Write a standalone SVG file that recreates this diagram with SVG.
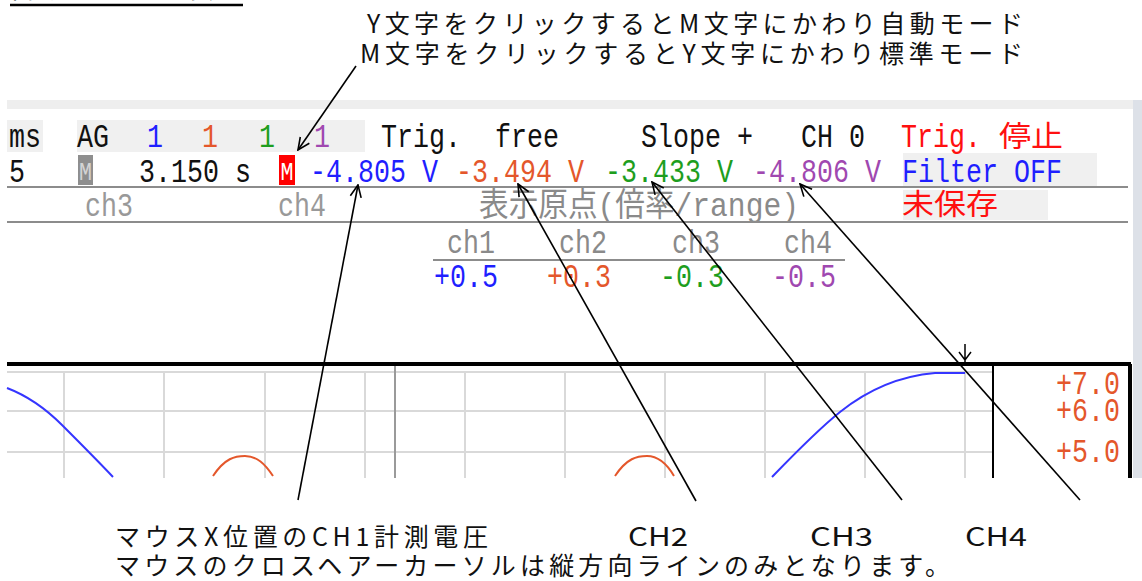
<svg xmlns="http://www.w3.org/2000/svg" width="1142" height="581" viewBox="0 0 1142 581">
<style>
.ann{font-family:"Noto Sans CJK JP","Noto Sans",sans-serif;font-size:25px;fill:#111}
.mono{font-family:"Liberation Mono","Noto Sans CJK JP",monospace;font-size:33px}
.cjk{font-family:"Noto Sans CJK JP",sans-serif;font-size:29px}
.blk{fill:#111}.blu{fill:#1f1fff}.org{fill:#e4572b}.grn{fill:#1e9e1e}.pur{fill:#a048b0}.gry{fill:#8a8a8a}.lgry{fill:#999}.red{fill:#ff1010}
.bg{fill:#f0f0f0}
.sep{stroke:#8c8c8c;stroke-width:2}
.grid{stroke:#d9d9d9;stroke-width:2}
.conn{stroke:#000;stroke-width:1.6;fill:none;marker-end:url(#ah)}
</style>
<defs>
<marker id="ah" viewBox="0 0 14 14" refX="13" refY="7" markerWidth="14" markerHeight="14" markerUnits="userSpaceOnUse" orient="auto"><path d="M1,1.5 L13,7 L1,12.5" fill="none" stroke="#000" stroke-width="1.6"/></marker>
</defs>
<rect width="1142" height="581" fill="#fff"/>

<g id="title">
<text class="ann" x="10" y="-2" font-size="28" textLength="233" lengthAdjust="spacing">自動モードの表示</text>
<line x1="10" y1="5" x2="243" y2="5" stroke="#000" stroke-width="2.5"/>
</g>

<g id="note-top">
<text class="ann" x="367" y="33" textLength="656" lengthAdjust="spacing">Y文字をクリックするとM文字にかわり自動モード</text>
<text class="ann" x="360" y="63" textLength="663" lengthAdjust="spacing">M文字をクリックするとY文字にかわり標準モード</text>
</g>

<g id="screen">
<rect x="7" y="100" width="1126" height="9" fill="#eeeeee"/>
<rect x="1133" y="100" width="9" height="378" fill="#dde1e8"/>
<rect class="bg" x="7" y="120" width="36" height="32"/>
<rect class="bg" x="77" y="120" width="288" height="32"/>
<rect class="bg" x="903" y="153" width="194" height="34"/>
<rect class="bg" x="903" y="190" width="145" height="30"/>

<g class="mono">
<text class="blk" x="9" y="147" textLength="32" lengthAdjust="spacingAndGlyphs">ms</text>
<text class="blk" x="77" y="147" textLength="32" lengthAdjust="spacingAndGlyphs">AG</text>
<text class="blu" x="147" y="147" textLength="16" lengthAdjust="spacingAndGlyphs">1</text>
<text class="org" x="202" y="147" textLength="16" lengthAdjust="spacingAndGlyphs">1</text>
<text class="grn" x="259" y="147" textLength="16" lengthAdjust="spacingAndGlyphs">1</text>
<text class="pur" x="314" y="147" textLength="16" lengthAdjust="spacingAndGlyphs">1</text>
<text class="blk" x="381" y="147" textLength="80" lengthAdjust="spacingAndGlyphs">Trig.</text>
<text class="blk" x="495" y="147" textLength="64" lengthAdjust="spacingAndGlyphs">free</text>
<text class="blk" x="641" y="147" textLength="112" lengthAdjust="spacingAndGlyphs">Slope +</text>
<text class="blk" x="801" y="147" textLength="64" lengthAdjust="spacingAndGlyphs">CH 0</text>
<text class="red" x="901" y="147" textLength="80" lengthAdjust="spacingAndGlyphs">Trig.</text>

<text class="blk" x="9" y="182" textLength="16" lengthAdjust="spacingAndGlyphs">5</text>
<text class="blk" x="139" y="182" textLength="112" lengthAdjust="spacingAndGlyphs">3.150 s</text>
<text class="blu" x="310" y="182" textLength="128" lengthAdjust="spacingAndGlyphs">-4.805 V</text>
<text class="org" x="456" y="182" textLength="128" lengthAdjust="spacingAndGlyphs">-3.494 V</text>
<text class="grn" x="605" y="182" textLength="128" lengthAdjust="spacingAndGlyphs">-3.433 V</text>
<text class="pur" x="753" y="182" textLength="128" lengthAdjust="spacingAndGlyphs">-4.806 V</text>
<text class="blu" x="902" y="182" textLength="160" lengthAdjust="spacingAndGlyphs">Filter OFF</text>

<text class="lgry" x="85" y="216" textLength="48" lengthAdjust="spacingAndGlyphs">ch3</text>
<text class="lgry" x="278" y="216" textLength="48" lengthAdjust="spacingAndGlyphs">ch4</text>
<text class="gry" x="479" y="216" textLength="320" lengthAdjust="spacingAndGlyphs">表示原点(倍率/range)</text>
</g>
<text class="cjk red" x="999" y="147" textLength="64" lengthAdjust="spacingAndGlyphs">停止</text>
<text class="cjk red" x="902" y="215" textLength="96" lengthAdjust="spacingAndGlyphs">未保存</text>

<rect x="78" y="155" width="15" height="30" fill="#8e8e8e"/>
<text x="85.5" y="180" text-anchor="middle" font-family="Liberation Mono,monospace" font-size="26" fill="#d4d4d4" textLength="13" lengthAdjust="spacingAndGlyphs">M</text>
<rect x="279" y="155" width="16" height="30" fill="#ff0000"/>
<text x="287" y="180" text-anchor="middle" font-family="Liberation Mono,monospace" font-size="26" fill="#fff" textLength="13" lengthAdjust="spacingAndGlyphs">M</text>

<line class="sep" x1="7" y1="187" x2="1128" y2="187"/>
<line class="sep" x1="7" y1="222" x2="1128" y2="222"/>
</g>

<g id="table" class="mono">
<text class="gry" x="447" y="253" textLength="48" lengthAdjust="spacingAndGlyphs">ch1</text>
<text class="gry" x="559" y="253" textLength="48" lengthAdjust="spacingAndGlyphs">ch2</text>
<text class="gry" x="672" y="253" textLength="48" lengthAdjust="spacingAndGlyphs">ch3</text>
<text class="gry" x="784" y="253" textLength="48" lengthAdjust="spacingAndGlyphs">ch4</text>
<line class="sep" x1="433" y1="260" x2="845" y2="260"/>
<text class="blu" x="434" y="287" textLength="64" lengthAdjust="spacingAndGlyphs">+0.5</text>
<text class="org" x="547" y="287" textLength="64" lengthAdjust="spacingAndGlyphs">+0.3</text>
<text class="grn" x="660" y="287" textLength="64" lengthAdjust="spacingAndGlyphs">-0.3</text>
<text class="pur" x="772" y="287" textLength="64" lengthAdjust="spacingAndGlyphs">-0.5</text>
</g>

<g id="chart">
<g class="grid">
<line x1="7" y1="372" x2="993" y2="372"/>
<line x1="7" y1="411" x2="993" y2="411"/>
<line x1="7" y1="452" x2="993" y2="452"/>
<line x1="64" y1="372" x2="64" y2="478"/>
<line x1="164" y1="372" x2="164" y2="478"/>
<line x1="265" y1="372" x2="265" y2="478"/>
<line x1="365" y1="372" x2="365" y2="478"/>
<line x1="465" y1="372" x2="465" y2="478"/>
<line x1="565" y1="372" x2="565" y2="478"/>
<line x1="665" y1="372" x2="665" y2="478"/>
<line x1="765" y1="372" x2="765" y2="478"/>
<line x1="865" y1="372" x2="865" y2="478"/>
<line x1="965" y1="372" x2="965" y2="478"/>
</g>
<line x1="395" y1="365" x2="395" y2="478" stroke="#9a9a9a" stroke-width="2"/>
<line x1="7" y1="364" x2="1131" y2="364" stroke="#000" stroke-width="4"/>
<line x1="993" y1="364" x2="993" y2="478" stroke="#000" stroke-width="2"/>
<line x1="1130" y1="364" x2="1130" y2="478" stroke="#000" stroke-width="4"/>
<path d="M7,388 C28,396 45,408 62,425 C80,443 97,460 113,477" fill="none" stroke="#3535ff" stroke-width="2"/>
<path d="M213,476 C225,458 235,456 245,456 C257,456 265,464 273,476" fill="none" stroke="#e4572b" stroke-width="2"/>
<path d="M615,476 C627,458 637,456 647,456 C659,456 667,464 674,476" fill="none" stroke="#e4572b" stroke-width="2"/>
<path d="M772,477 C800,448 820,428 840,412 C870,388 900,376 935,373 L965,373" fill="none" stroke="#3535ff" stroke-width="2"/>
<path d="M965,344 V362 M959,352 L965,360 L971,352" fill="none" stroke="#000" stroke-width="1.5"/>
<g class="mono">
<text class="org" x="1056" y="394" textLength="64" lengthAdjust="spacingAndGlyphs">+7.0</text>
<text class="org" x="1056" y="421" textLength="64" lengthAdjust="spacingAndGlyphs">+6.0</text>
<text class="org" x="1056" y="462" textLength="64" lengthAdjust="spacingAndGlyphs">+5.0</text>
</g>
</g>

<g id="connectors">
<path class="conn" d="M356,66 L298,150"/>
<path class="conn" d="M298,500 L358,185"/>
<path class="conn" d="M696,501 L518,184"/>
<path class="conn" d="M902,500 L652,182"/>
<path class="conn" d="M1080,500 L800,184"/>
</g>

<g id="note-bottom">
<text class="ann" x="115" y="546" textLength="373" lengthAdjust="spacing">マウスX位置のCH1計測電圧</text>
<text class="ann" x="628" y="546" font-size="26" textLength="60" lengthAdjust="spacingAndGlyphs">CH2</text>
<text class="ann" x="810" y="546" font-size="26" textLength="63" lengthAdjust="spacingAndGlyphs">CH3</text>
<text class="ann" x="965" y="546" font-size="26" textLength="62" lengthAdjust="spacingAndGlyphs">CH4</text>
<text class="ann" x="115" y="575" textLength="835" lengthAdjust="spacing">マウスのクロスヘアーカーソルは縦方向ラインのみとなります。</text>
</g>
</svg>
